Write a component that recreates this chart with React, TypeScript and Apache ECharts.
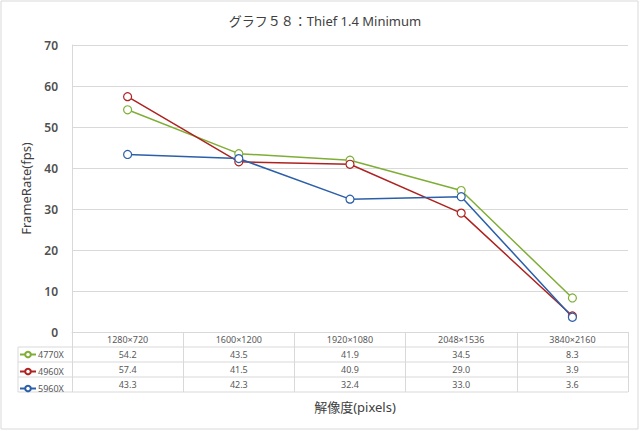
import React, { useEffect, useRef } from "react";
import * as echarts from "echarts";

const categories = ["1280×720", "1600×1200", "1920×1080", "2048×1536", "3840×2160"];
const seriesNames = ["4770X", "4960X", "5960X"];
const s4770X = [54.2, 43.5, 41.9, 34.5, 8.3];
const s4960X = [57.4, 41.5, 40.9, 29.0, 3.9];
const s5960X = [43.3, 42.3, 32.4, 33.0, 3.6];
const seriesColors = ["#7FAE36", "#AE2320", "#2C5FA9"];
const yTicks = { min: 0, max: 70, interval: 10 };

const GRID_L = 72;
const GRID_R = 628;
const GRID_T = 45;
const GRID_B = 332;
const ROW_H = 15;
const LINE_C = "#d9d9d9";
const FONT = "'Noto Sans', 'Noto Sans CJK JP', sans-serif";

export default function App() {
  const ref = useRef<HTMLDivElement>(null);
  useEffect(() => {
    if (!ref.current) return;
    const chart = echarts.init(ref.current, null, { renderer: "svg" });
    const values = [s4770X, s4960X, s5960X];
    const rowAxes = values.map((vals, i) => ({
      type: "category",
      gridIndex: 0,
      position: "bottom",
      offset: ROW_H * (i + 1),
      data: vals.map((v) => v.toFixed(1)),
      axisLine: { show: false },
      axisTick: { show: false },
      axisLabel: { margin: 3, fontSize: 9, color: "#595959", fontFamily: FONT },
    }));
    const graphics: any[] = [
      {
        type: "rect",
        shape: { x: 1, y: 1, width: 637, height: 428 },
        style: { fill: "none", stroke: LINE_C, lineWidth: 1 },
        silent: true,
      },
      {
        type: "line",
        shape: { x1: 18, y1: GRID_B + ROW_H, x2: 18, y2: GRID_B + ROW_H * 4 },
        style: { stroke: LINE_C, lineWidth: 1 },
      },
    ];
    for (let r = 1; r <= 4; r++) {
      graphics.push({
        type: "line",
        shape: { x1: 18, y1: GRID_B + ROW_H * r, x2: GRID_R, y2: GRID_B + ROW_H * r },
        style: { stroke: LINE_C, lineWidth: 1 },
      });
    }
    const option: any = {
      animation: false,
      backgroundColor: "#ffffff",
      title: [
        {
          text: "グラフ５８：Thief 1.4 Minimum",
          left: 320,
          top: 9,
          textAlign: "center",
          textStyle: { fontSize: 13, fontWeight: "normal", color: "#404040", fontFamily: FONT },
        },
        {
          text: "解像度(pixels)",
          left: (GRID_L + GRID_R) / 2,
          top: 395,
          textAlign: "center",
          textStyle: { fontSize: 13, fontWeight: "normal", color: "#404040", fontFamily: FONT },
        },
      ],
      legend: {
        orient: "vertical",
        left: 19,
        top: GRID_B + ROW_H + 3,
        itemWidth: 16,
        itemHeight: 7,
        itemGap: 8,
        padding: 0,
        data: seriesNames,
        textStyle: { fontSize: 9, color: "#595959", fontFamily: FONT, padding: [0, 0, 0, -3] },
      },
      grid: { left: GRID_L, right: 640 - GRID_R, top: GRID_T, bottom: 431 - GRID_B },
      xAxis: [
        {
          type: "category",
          data: categories,
          boundaryGap: true,
          axisLine: { show: true, lineStyle: { color: LINE_C } },
          axisTick: { show: true, length: ROW_H * 4, interval: 0, lineStyle: { color: LINE_C } },
          axisLabel: { margin: 3, fontSize: 9, color: "#595959", fontFamily: FONT },
        },
        ...rowAxes,
      ],
      yAxis: {
        type: "value",
        min: yTicks.min,
        max: yTicks.max,
        interval: yTicks.interval,
        name: "FrameRate(fps)",
        nameLocation: "middle",
        nameGap: 40,
        nameTextStyle: { fontSize: 13, color: "#404040", fontFamily: FONT },
        axisLine: { show: true, lineStyle: { color: LINE_C } },
        axisTick: { show: false },
        axisLabel: { margin: 14, fontSize: 12, fontWeight: 600, color: "#505050", fontFamily: FONT },
        splitLine: { lineStyle: { color: LINE_C } },
      },
      series: values.map((vals, i) => ({
        name: seriesNames[i],
        type: "line",
        xAxisIndex: 0,
        data: vals,
        symbol: "circle",
        symbolSize: 8,
        itemStyle: { color: "#ffffff", borderColor: seriesColors[i], borderWidth: 1.2 },
        lineStyle: { color: seriesColors[i], width: 1.5 },
      })),
      graphic: graphics,
    };
    chart.setOption(option);
    return () => chart.dispose();
  }, []);
  return (
    <div
      ref={ref}
      style={{ position: "fixed", left: 0, top: 0, width: 640, height: 431 }}
    />
  );
}
